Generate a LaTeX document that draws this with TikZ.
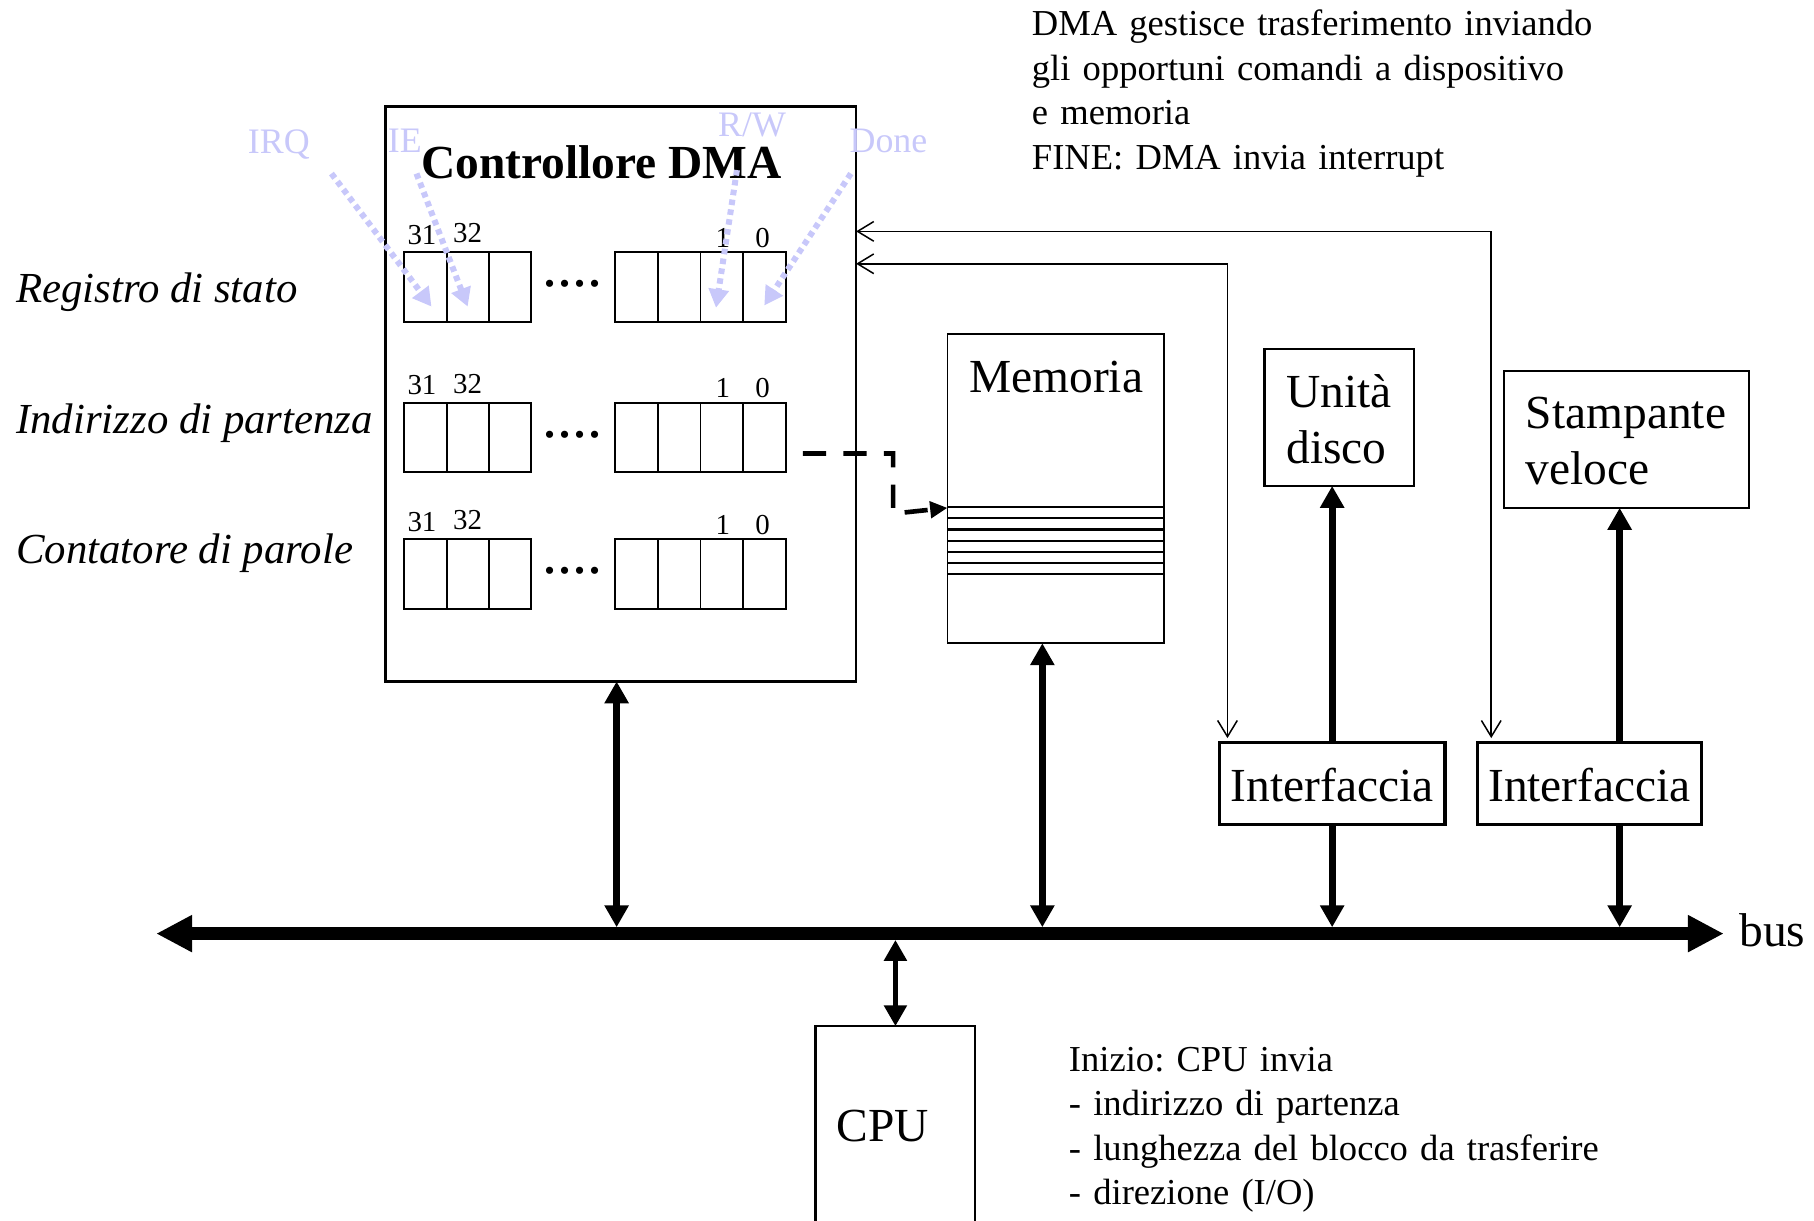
\documentclass[tikz,border=0pt]{standalone}
\usepackage{fontspec}
\setmainfont{Liberation Serif}
\usetikzlibrary{arrows.meta,calc}
\definecolor{lav}{RGB}{200,200,250}

\begin{document}
\frenchspacing
\begin{tikzpicture}[x=0.5pt,y=-0.5pt,
  box/.style={draw, inner sep=0pt, outer sep=0pt},
  cellL/.style={draw, line width=0.85pt, minimum width=18.25pt, minimum height=30pt, inner sep=0pt, outer sep=0pt, anchor=north west},
  cellR/.style={cellL, minimum width=18.375pt},
  txt/.style={inner sep=0pt, outer sep=0pt, anchor=base},
  big/.style={font=\fontsize{20.5}{24.5}\selectfont},
  twoline/.style={inner sep=0pt, outer sep=0pt, anchor=base west, text width=120pt, align=left, big},
  note/.style={inner sep=0pt, outer sep=0pt, anchor=base west, text width=300pt, align=left, font=\fontsize{15.8}{19.25}\selectfont},
  regname/.style={inner sep=0pt, outer sep=0pt, anchor=base west, font=\itshape\fontsize{18.5}{22}\selectfont},
  bitnum/.style={txt, font=\fontsize{12.5}{14}\selectfont},
  dotrow/.style={txt, font=\fontsize{26}{30}\selectfont},
  flag/.style={txt, text=lav, font=\fontsize{15.5}{18}\selectfont},
  wire/.style={line width=0.65pt, {Straight Barb[length=7pt,width=8.5pt]}-{Straight Barb[length=7pt,width=8.5pt]}},
  busline/.style={line width=5.5pt, {Triangle[length=15.5pt,width=15pt]}-{Triangle[length=15.5pt,width=15pt]}},
  link/.style={line width=3pt, -{Triangle[length=9.5pt,width=10pt]}},
  biglink/.style={line width=3pt, {Triangle[length=9.5pt,width=10pt]}-{Triangle[length=9.5pt,width=10pt]}},
  cpulink/.style={line width=2.4pt, {Triangle[length=9pt,width=9.5pt]}-{Triangle[length=9pt,width=9.5pt]}},
  dasharrow/.style={line width=2pt, dash pattern=on 10pt off 7.5pt, -{Triangle[length=7.5pt,width=7pt]}},
  flagarrow/.style={lav, line width=2.6pt, dash pattern=on 2.4pt off 1.9pt, -{Triangle[length=8pt,width=8.5pt]}}
]
\useasboundingbox (0,0) rectangle (1568,1055);

% helper levels
\coordinate (y200) at (0,200);
\coordinate (y228) at (0,228);
\coordinate (ymem) at (0,439);
\coordinate (busL) at (135,807);
\coordinate (busR) at (1490,807);

% explanatory notes
\node[note] (topnote) at (892,31) {DMA gestisce trasferimento inviando\\gli opportuni comandi a dispositivo\\e memoria\\FINE: DMA invia interrupt};
\node[note] (botnote) at (924,926) {Inizio: CPU invia\\- indirizzo di partenza\\- lunghezza del blocco da trasferire\\- direzione (I/O)};

% DMA controller
\node[box, line width=1.2pt, minimum width=203.5pt, minimum height=248.5pt] (dma) at (536.5,340.5) {};
\node[txt, font=\bfseries\fontsize{20.5}{24}\selectfont] (title) at (520,154) {Controllore DMA};

\node[regname] (lab1) at (14,261.5) {Registro di stato};
\node[regname] (lab2) at (14,375) {Indirizzo di partenza};
\node[regname] (lab3) at (14,487) {Contatore di parole};

% the three registers
\foreach \r/\t in {1/218,2/348,3/466}{
  \foreach \i/\x in {1/349.5,2/386,3/422.5}
    \node[cellL] (c\r\i) at (\x,\t) {};
  \foreach \i/\x in {5/532,6/568.75,7/605.5,8/642.25}
    \node[cellR] (c\r\i) at (\x,\t) {};
  \node[bitnum] (n\r-31) at ($(c\r1.north)+(-3,-7)$) {31};
  \node[bitnum] (n\r-32) at ($(c\r2.north)+(0,-8)$) {32};
  \node[bitnum] (n\r-1) at ($(c\r7.north)+(1,-4)$) {1};
  \node[bitnum] (n\r-0) at ($(c\r8.north)+(-1.5,-4)$) {0};
  \node[dotrow] (d\r) at (495,\t+30) {....};
}

% memory
\node[box, line width=0.8pt, minimum width=93.5pt, minimum height=133.5pt] (mem) at (912.5,422.5) {};
\node[txt, big] (memt) at (913,339) {Memoria};
\foreach \k in {0,...,6}
  \draw[line width=0.9pt] ([yshift={-74.75pt-4.8pt*\k}]mem.north west) -- ([yshift={-74.75pt-4.8pt*\k}]mem.north east);

% devices
\node[box, line width=0.9pt, minimum width=64.5pt, minimum height=59pt] (disco) at (1157.5,361) {};
\node[twoline] (discot) at (1112,352) {Unità\\disco};
\node[box, line width=0.9pt, minimum width=106pt, minimum height=59pt] (stamp) at (1406,380) {};
\node[twoline] (stampt) at (1319,370) {Stampante\\veloce};

% interfaces
\node[box, line width=1.4pt, minimum width=97.5pt, minimum height=35.5pt] (if1) at (1151.5,677.5) {};
\node[txt, big] (if1t) at (1151.5,693) {Interfaccia};
\node[box, line width=1.4pt, minimum width=97pt, minimum height=35.5pt] (if2) at (1374,677.5) {};
\node[txt, big] (if2t) at (1374,693) {Interfaccia};

% CPU (box runs off the lower edge)
\node[inner sep=0pt, outer sep=0pt, minimum width=69pt, minimum height=87pt] (cpu) at (774,974) {};
\draw[line width=1pt] (cpu.south west) -- (cpu.north west) -- (cpu.north east) -- (cpu.south east);
\node[txt, big] (cput) at (763,987) {CPU};

% bus
\draw[busline] (busL) -- (busR);
\node[inner sep=0pt, anchor=base west, big] (bust) at (1503,818) {bus};

% bus connections
\draw[biglink] ([xshift=-1.75pt,yshift=2.75pt]dma.south |- busL) -- ([xshift=-1.75pt]dma.south);
\draw[biglink] ([xshift=-5.75pt,yshift=2.75pt]mem.south |- busL) -- ([xshift=-5.75pt]mem.south);
\draw[cpulink] ([yshift=-2.75pt]cpu.north |- busL) -- (cpu.north);
\draw[link] (if1.south) -- ([yshift=2.75pt]if1.south |- busL);
\draw[link] ([xshift=13pt]if2.south) -- ([xshift=13pt,yshift=2.75pt]if2.south |- busL);
\draw[link] (if1.north) -- (if1.north |- disco.south);
\draw[link] ([xshift=13pt]if2.north) -- ([xshift=13pt]if2.north |- stamp.south);

% control wires between the controller and the interfaces
\draw[wire, shorten <=2pt] ([xshift=6pt]if2.north west) |- (dma.east |- y200);
\draw[wire, shorten <=2pt] ([xshift=3.5pt]if1.north west) |- (dma.east |- y228);

% start address pointing into memory
\draw[dasharrow] ([xshift=7.5pt,yshift=-7pt]c28.east) -- ++(78,0) -- ++(0,52) -- (mem.west |- ymem);

% status flags
\node[flag] (irq) at (241,133) {IRQ};
\node[flag] (ie) at (350,132) {IE};
\node[flag] (rw) at (650,118) {R/W};
\node[flag] (done) at (768,132) {Done};
\coordinate (irqS) at (286.5,150);
\coordinate (ieS) at (360,150);
\coordinate (rwS) at (637,147);
\coordinate (doneS) at (735.5,150);
\draw[flagarrow] (irqS) -- ([shift={(2.6pt,-8.5pt)}]c11.center);
\draw[flagarrow] (ieS) -- ([yshift=-8.5pt]c12.center);
\draw[flagarrow] (rwS) -- ([shift={(-2.5pt,-9pt)}]c17.center);
\draw[flagarrow] (doneS) -- ([yshift=-8pt]c18.center);
\end{tikzpicture}
\end{document}
